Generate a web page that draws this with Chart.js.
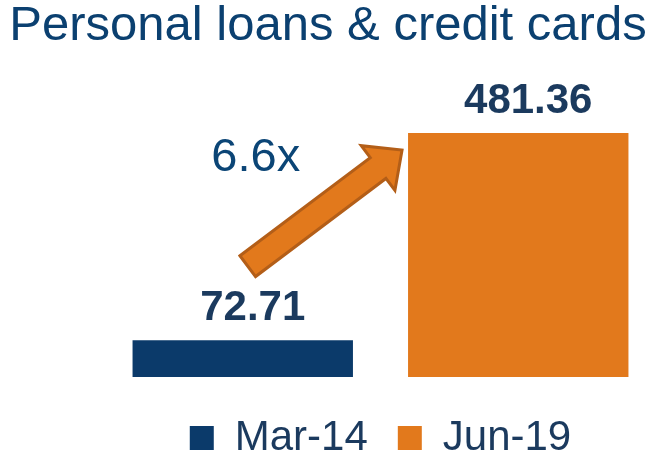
<!DOCTYPE html>
<html>
<head>
<meta charset="utf-8">
<title>Personal loans & credit cards</title>
<script src="https://cdn.jsdelivr.net/npm/chart.js@4.4.1/dist/chart.umd.min.js"></script>
<style>
  html, body { margin: 0; padding: 0; background: #fff; }
  canvas { display: block; }
</style>
</head>
<body>
<canvas id="loansChart" width="665" height="462"></canvas>
<script>
// Book size, personal loans & credit cards
const periods = ['Mar-14', 'Jun-19'];
const balances = [72.71, 481.36];
const growthLabel = '6.6x';

const periodColors = ['#0b3a6a', '#e2791c'];
const FONT = "'Liberation Sans', Arial, sans-serif";

// one dataset per period so the legend lists both
const datasets = periods.map((p, i) => ({
    label: p,
    data: periods.map((_, j) => (j === i ? balances[i] : null)),
    backgroundColor: periodColors[i],
    borderWidth: 0,
    grouped: false,
    barPercentage: 0.8,
    categoryPercentage: 1.0
}));

// value printed above each bar
const valueLabels = {
    id: 'valueLabels',
    afterDatasetsDraw(chart) {
        const ctx = chart.ctx;
        ctx.save();
        ctx.font = 'bold 42px ' + FONT;
        ctx.fillStyle = '#1b3a5e';
        ctx.textAlign = 'center';
        ctx.textBaseline = 'alphabetic';
        chart.data.datasets.forEach((ds, di) => {
            chart.getDatasetMeta(di).data.forEach((bar, i) => {
                if (ds.data[i] == null) return;
                ctx.fillText(ds.data[i].toFixed(2), bar.x + 10, bar.y - 20);
            });
        });
        ctx.restore();
    }
};

// block arrow from the first bar up to the second, with the multiple
const growthArrow = {
    id: 'growthArrow',
    afterDatasetsDraw(chart) {
        const first = chart.getDatasetMeta(0).data[0];
        const last = chart.getDatasetMeta(1).data[1];
        if (!first || !last) return;

        const tx = first.x + 5, ty = first.y - 74;
        const hx = last.x - last.width / 2 - 6, hy = last.y + 17;
        const len = Math.hypot(hx - tx, hy - ty);
        const ang = Math.atan2(hy - ty, hx - tx);
        const sw = 13, hw = 28, hl = 30;

        const ctx = chart.ctx;
        ctx.save();
        ctx.translate(tx, ty);
        ctx.rotate(ang);
        ctx.beginPath();
        ctx.moveTo(0, -sw);
        ctx.lineTo(len - hl, -sw);
        ctx.lineTo(len - hl, -hw);
        ctx.lineTo(len, 0);
        ctx.lineTo(len - hl, hw);
        ctx.lineTo(len - hl, sw);
        ctx.lineTo(0, sw);
        ctx.closePath();
        ctx.fillStyle = '#e2791c';
        ctx.fill();
        ctx.lineWidth = 3;
        ctx.lineJoin = 'miter';
        ctx.strokeStyle = '#b35e18';
        ctx.stroke();
        ctx.restore();

        ctx.save();
        ctx.font = '47px ' + FONT;
        ctx.fillStyle = '#0b4576';
        ctx.textAlign = 'center';
        ctx.textBaseline = 'alphabetic';
        ctx.fillText(growthLabel, tx + 8, ty - 95);
        ctx.restore();
    }
};

new Chart(document.getElementById('loansChart'), {
    type: 'bar',
    data: {
        labels: periods,
        datasets: datasets
    },
    options: {
        responsive: false,
        animation: false,
        events: [],
        layout: {
            padding: { top: 0, right: 9, bottom: -7, left: 0 }
        },
        scales: {
            x: {
                ticks: { display: false },
                grid: { display: false },
                border: { display: false },
                afterFit: (scale) => { scale.height = 10; }
            },
            y: {
                min: 0,
                max: 600,
                ticks: { display: false },
                grid: { display: false },
                border: { display: false },
                afterFit: (scale) => { scale.width = 105; }
            }
        },
        plugins: {
            title: {
                display: true,
                text: 'Personal loans & credit cards',
                color: '#0b4070',
                font: { family: FONT, size: 49, weight: 'normal', lineHeight: 1.1 },
                padding: { top: 0, bottom: 19 }
            },
            legend: {
                position: 'bottom',
                fullSize: false,
                labels: {
                    color: '#1b3a5e',
                    font: { family: FONT, size: 42 },
                    boxWidth: 24,
                    boxHeight: 24,
                    padding: 30
                }
            },
            tooltip: { enabled: false }
        }
    },
    plugins: [valueLabels, growthArrow]
});
</script>
</body>
</html>
